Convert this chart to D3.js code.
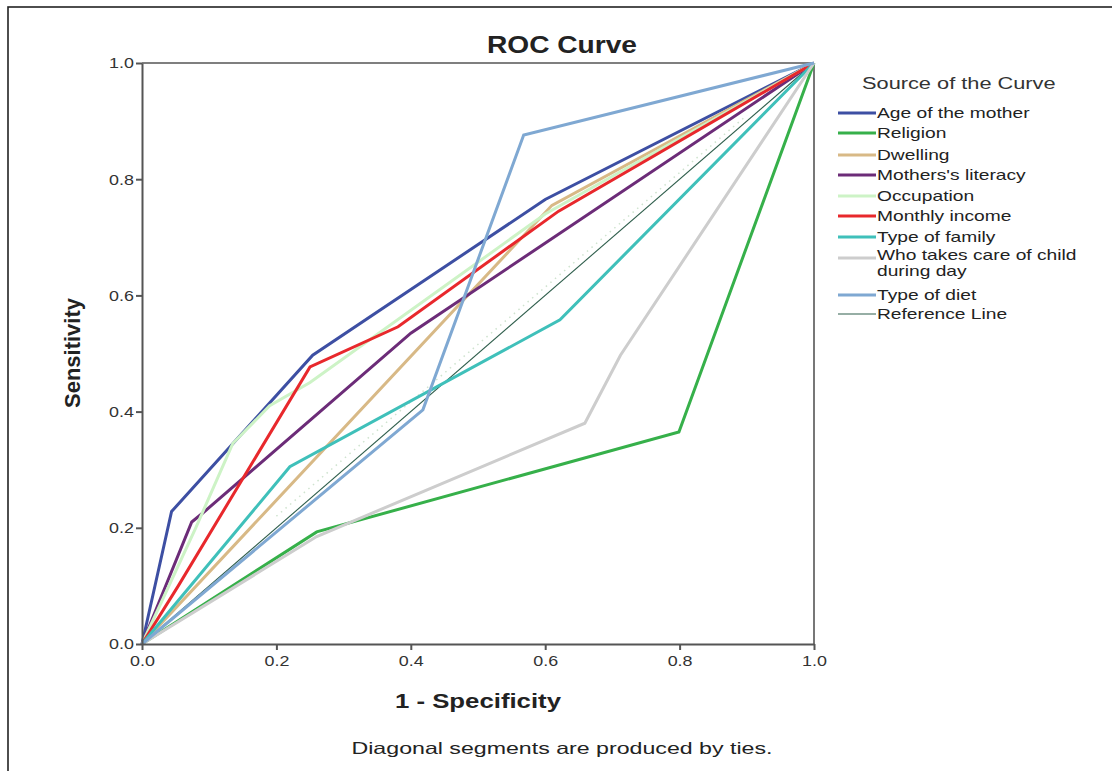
<!DOCTYPE html>
<html><head><meta charset="utf-8">
<script src="https://cdn.jsdelivr.net/npm/d3@7"></script>
<style>
body{margin:0;background:#fff;}
svg{display:block;font-family:"Liberation Sans",Arial,sans-serif;}
</style></head>
<body><svg id="c" width="1112" height="771"></svg>
<script>
// ----- data -----
const seriesNames = ["Age of the mother","Religion","Dwelling","Mothers's literacy","Occupation","Monthly income","Type of family","Who takes care of child during day","Type of diet"];
const seriesColors = ["#3d4fa3","#36b04a","#d8b986","#6c2c78","#cdf3c6","#e8282c","#3fc0ba","#cdcdcd","#7fa8d2"];
const ageX = [0,0.044,0.254,0.6,1], ageY = [0,0.228,0.497,0.765,1];
const relX = [0,0.26,0.799,1], relY = [0,0.193,0.365,1];
const dwlX = [0,0.61,1], dwlY = [0,0.755,1];
const litX = [0,0.074,0.09,0.4,1], litY = [0,0.21,0.225,0.535,1];
const occX = [0,0.08,0.135,0.19,0.25,0.6,1], occY = [0,0.2,0.345,0.41,0.45,0.74,1];
const incX = [0,0.054,0.25,0.381,0.62,1], incY = [0,0.1,0.477,0.546,0.745,1];
const famX = [0,0.22,0.622,1], famY = [0,0.305,0.558,1];
const careX = [0,0.26,0.659,0.712,1], careY = [0,0.185,0.38,0.497,1];
const dietX = [0,0.418,0.568,1], dietY = [0,0.403,0.876,1];
const refX = [0,1], refY = [0,1];
const tieX = [0.2,0.9], tieY = [0.22,0.91];
const tickVals = [0,0.2,0.4,0.6,0.8,1.0];
const tickLabels = ["0.0","0.2","0.4","0.6","0.8","1.0"];

const seriesX = [ageX,relX,dwlX,litX,occX,incX,famX,careX,dietX];
const seriesY = [ageY,relY,dwlY,litY,occY,incY,famY,careY,dietY];

const svg = d3.select("#c");
const SX = 1.28; // horizontal stretch of the original raster text
// outer frame
svg.append("rect").attr("x",8).attr("y",7).attr("width",1200).attr("height",900)
  .attr("fill","none").attr("stroke","#222").attr("stroke-width",1.6);

const L=142,R=814,T=63,B=644;
const x = d3.scaleLinear().domain([0,1]).range([L,R]);
const y = d3.scaleLinear().domain([0,1]).range([B,T]);

svg.append("line").attr("x1",L).attr("x2",R).attr("y1",T).attr("y2",T).attr("stroke","#555").attr("stroke-width",1.6);
svg.append("line").attr("x1",R).attr("x2",R).attr("y1",T).attr("y2",B).attr("stroke","#555").attr("stroke-width",1.6);

const line = d3.line().x(d=>x(d[0])).y(d=>y(d[1]));

svg.append("path").datum(d3.zip(tieX,tieY)).attr("d",line).attr("fill","none")
  .attr("stroke","#cfe3cf").attr("stroke-width",1.5).attr("stroke-dasharray","1.5,4.5");

svg.append("path").datum(d3.zip(refX,refY)).attr("d",line).attr("fill","none")
  .attr("stroke","#2f5e4c").attr("stroke-width",1.1);

seriesNames.forEach((n,i)=>{
  svg.append("path").datum(d3.zip(seriesX[i],seriesY[i])).attr("d",line)
    .attr("fill","none").attr("stroke",seriesColors[i]).attr("stroke-width",3)
    .attr("stroke-linejoin","miter");
});

// axes
const xAxis = d3.axisBottom(x).tickValues(tickVals).tickFormat((d,i)=>tickLabels[i]).tickSize(6).tickSizeOuter(0);
const yAxis = d3.axisLeft(y).tickValues(tickVals).tickFormat((d,i)=>tickLabels[i]).tickSize(6).tickSizeOuter(0);
const gx = svg.append("g").attr("transform",`translate(0,${B})`).call(xAxis);
const gy = svg.append("g").attr("transform",`translate(${L},0)`).call(yAxis);
[gx,gy].forEach(g=>{
  g.select(".domain").attr("stroke","#555").attr("stroke-width",2);
  g.selectAll(".tick line").attr("stroke","#555").attr("stroke-width",2);
  g.selectAll(".tick text").attr("fill","#333").attr("font-size",14).attr("font-family","Liberation Sans, Arial, sans-serif");
});
gx.selectAll(".tick text").attr("x",0).attr("y",12).attr("dy","0.71em").attr("transform",`scale(${SX},1)`);
gy.selectAll(".tick text").attr("x",-8/SX).attr("dy","0.35em").attr("transform",`scale(${SX},1)`);

function stext(cx, by, str, size, bold, anchor, len){
  const t = svg.append("text").attr("x",cx).attr("y",by).attr("font-size",size)
    .attr("fill","#222").attr("text-anchor",anchor).text(str);
  if(bold) t.attr("font-weight","bold");
  if(len) t.attr("textLength",len).attr("lengthAdjust","spacingAndGlyphs");
  return t;
}
stext(562,53,"ROC Curve",23,true,"middle",150);
stext(478,708,"1 - Specificity",21,true,"middle",166);
stext(562,754,"Diagonal segments are produced by ties.",16.5,false,"middle",421);
svg.append("text").attr("transform","translate(80,353) rotate(-90)").attr("text-anchor","middle")
  .attr("font-size",22).attr("font-weight","bold").attr("fill","#222").text("Sensitivity");

// legend
svg.append("text").attr("font-size",16.5).attr("fill","#333")
  .attr("transform",`translate(862,89) scale(${SX+0.04},1)`).text("Source of the Curve");
const rowsY = [113,133,155,175,196,216,237,258,295,314];
const legNames = seriesNames.concat(["Reference Line"]);
const legColors = seriesColors.concat(["#2f5e4c"]);
legNames.forEach((n,i)=>{
  const yy = rowsY[i];
  svg.append("line").attr("x1",838).attr("x2",876).attr("y1",yy).attr("y2",yy)
    .attr("stroke",legColors[i]).attr("stroke-width", i===9?1.2:3);
  const g = svg.append("g").attr("transform",`translate(877,0) scale(${SX},1)`);
  const t = g.append("text").attr("x",0).attr("y",yy+5).attr("font-size",15).attr("fill","#222");
  if(n==="Who takes care of child during day"){
    t.append("tspan").attr("x",0).attr("y",yy+2).text("Who takes care of child");
    t.append("tspan").attr("x",0).attr("y",yy+18).text("during day");
  } else t.text(n);
});
</script></body></html>
